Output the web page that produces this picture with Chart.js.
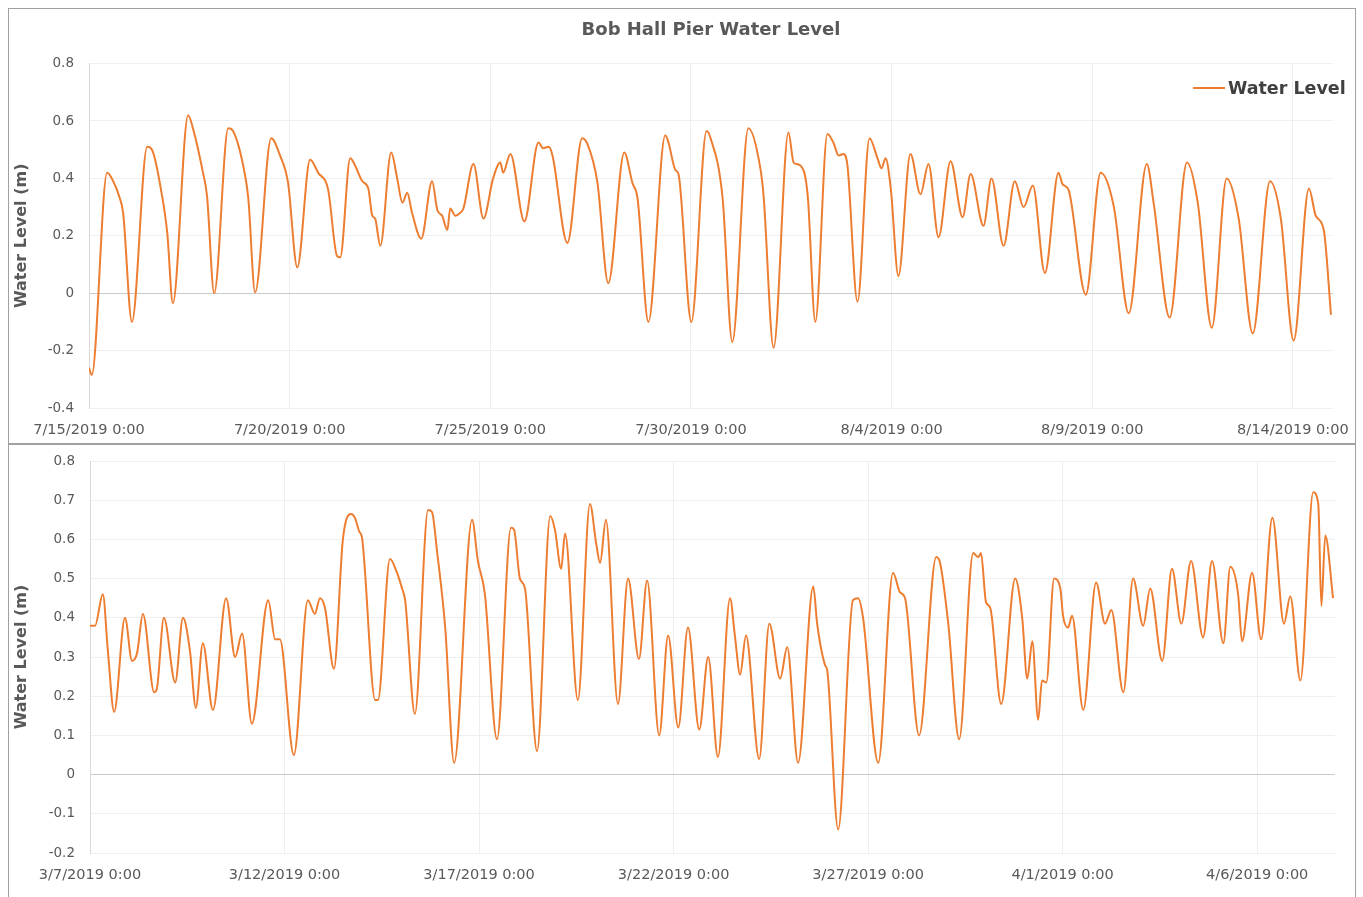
<!DOCTYPE html>
<html>
<head>
<meta charset="utf-8">
<title>Bob Hall Pier Water Level</title>
<script src="https://cdn.jsdelivr.net/npm/chart.js@4"></script>
<style>
	body { margin: 0; background: #fff; width: 1363px; height: 897px; overflow: hidden; position: relative; font-family: 'DejaVu Sans', sans-serif; }
	.panel { position: absolute; left: 8px; width: 1346px; border: 1px solid #a0a0a0; background: #fff; }
	#topPanel { top: 8px; height: 434px; }
	#bottomPanel { top: 444px; height: 460px; }
	canvas { display: block; }
	#legend { position: absolute; left: 1193px; top: 78px; font-weight: bold; font-size: 17.5px; color: #404040; white-space: nowrap; }
	#legend .swatch { display: inline-block; width: 32px; height: 2px; vertical-align: middle; margin-right: 3px; position: relative; top: -1px; }
</style>
</head>
<body>
<div class="panel" id="topPanel"><canvas id="topChart" width="1346" height="434"></canvas></div>
<div class="panel" id="bottomPanel"><canvas id="bottomChart" width="1346" height="452"></canvas></div>
<div id="legend"></div>
<script>
// July / August 2019 run (days after 7/15/2019 0:00)
const topDays = [
	0, 0.07, 0.45, 0.57, 0.77, 0.85, 1.07, 1.45, 1.57, 1.82,
	1.95, 2.09, 2.47, 2.59, 2.84, 2.94, 3.12, 3.47, 3.59, 3.89,
	3.97, 4.14, 4.54, 4.76, 4.96, 5.19, 5.51, 5.71, 5.96, 6.18,
	6.26, 6.51, 6.63, 6.81, 6.96, 7.06, 7.13, 7.26, 7.53, 7.68,
	7.81, 7.93, 8.05, 8.28, 8.55, 8.68, 8.80, 8.93, 9.00, 9.13,
	9.25, 9.33, 9.58, 9.83, 10.07, 10.25, 10.32, 10.50, 10.85, 11.20,
	11.32, 11.45, 11.55, 11.92, 12.29, 12.42, 12.67, 12.94, 13.34, 13.54,
	13.67, 13.94, 14.36, 14.44, 14.61, 14.69, 15.01, 15.39, 15.49, 15.79,
	16.03, 16.43, 16.73, 16.81, 17.06, 17.43, 17.56, 17.73, 17.91, 18.10,
	18.40, 18.55, 18.68, 18.80, 18.90, 19.15, 19.45, 19.65, 19.75, 19.85,
	19.98, 20.17, 20.47, 20.72, 20.92, 21.17, 21.47, 21.77, 21.97, 22.29,
	22.49, 22.79, 23.07, 23.29, 23.52, 23.82, 24.16, 24.26, 24.41, 24.84,
	25.21, 25.54, 25.91, 26.36, 26.53, 26.93, 27.36, 27.63, 27.98, 28.35,
	28.65, 29.00, 29.43, 29.70, 30.02, 30.40, 30.57, 30.77, 30.95
];
const topLevels = [
	-0.26, -0.285, 0.42, 0.40, 0.33, 0.28, -0.10, 0.51, 0.50, 0.34,
	0.21, -0.035, 0.62, 0.575, 0.42, 0.34, 0.0, 0.575, 0.565, 0.41,
	0.33, 0.003, 0.54, 0.48, 0.385, 0.09, 0.465, 0.42, 0.36, 0.13,
	0.125, 0.47, 0.445, 0.39, 0.365, 0.27, 0.26, 0.165, 0.49, 0.40,
	0.315, 0.35, 0.28, 0.19, 0.39, 0.29, 0.27, 0.22, 0.295, 0.27,
	0.28, 0.295, 0.45, 0.26, 0.40, 0.455, 0.42, 0.485, 0.25, 0.525,
	0.505, 0.51, 0.48, 0.175, 0.54, 0.52, 0.385, 0.035, 0.49, 0.385,
	0.33, -0.10, 0.55, 0.525, 0.43, 0.415, -0.10, 0.565, 0.54, 0.33,
	-0.17, 0.575, 0.435, 0.34, -0.19, 0.56, 0.455, 0.445, 0.34, -0.10,
	0.555, 0.525, 0.48, 0.485, 0.445, -0.03, 0.54, 0.47, 0.435, 0.47,
	0.365, 0.06, 0.485, 0.345, 0.45, 0.195, 0.46, 0.265, 0.415, 0.235,
	0.40, 0.165, 0.39, 0.30, 0.375, 0.07, 0.42, 0.38, 0.36, -0.005,
	0.42, 0.30, -0.07, 0.45, 0.315, -0.085, 0.455, 0.315, -0.12, 0.40,
	0.26, -0.14, 0.39, 0.26, -0.165, 0.365, 0.27, 0.22, -0.075
];
const topTickLabels = ['7/15/2019 0:00', '7/20/2019 0:00', '7/25/2019 0:00', '7/30/2019 0:00', '8/4/2019 0:00', '8/9/2019 0:00', '8/14/2019 0:00'];
const topYTicks = [-0.4, 0.8, 0.2];

// March / April 2019 run (days after 3/7/2019 0:00)
const bottomDays = [
	0, 0.13, 0.33, 0.46, 0.62, 0.90, 1.08, 1.21, 1.36, 1.65,
	1.72, 1.90, 2.19, 2.39, 2.57, 2.72, 2.90, 3.16, 3.50, 3.73,
	3.91, 4.16, 4.58, 4.76, 4.88, 5.24, 5.60, 5.78, 5.91, 6.04,
	6.27, 6.50, 6.71, 6.81, 6.92, 6.99, 7.33, 7.40, 7.71, 7.89,
	8.02, 8.10, 8.35, 8.69, 8.79, 8.92, 9.13, 9.36, 9.82, 9.97,
	10.15, 10.46, 10.82, 10.90, 11.05, 11.18, 11.49, 11.83, 11.95, 12.11,
	12.21, 12.54, 12.85, 13.01, 13.11, 13.26, 13.57, 13.83, 14.11, 14.32,
	14.63, 14.86, 15.12, 15.37, 15.66, 15.89, 16.14, 16.45, 16.58, 16.71,
	16.86, 17.20, 17.46, 17.74, 17.92, 18.20, 18.59, 18.69, 18.89, 18.95,
	19.23, 19.61, 19.74, 19.87, 20.26, 20.64, 20.82, 20.95, 21.31, 21.75,
	21.85, 22.06, 22.34, 22.70, 22.83, 22.90, 23.03, 23.14, 23.42, 23.78,
	23.96, 24.09, 24.22, 24.37, 24.47, 24.58, 24.78, 24.94, 25.01, 25.14,
	25.24, 25.53, 25.86, 26.09, 26.25, 26.56, 26.81, 27.07, 27.25, 27.56,
	27.81, 28.05, 28.30, 28.61, 28.84, 29.13, 29.31, 29.51, 29.61, 29.87,
	30.10, 30.39, 30.69, 30.85, 31.11, 31.44, 31.57, 31.65, 31.75, 31.95
];
const bottomLevels = [
	0.38, 0.38, 0.46, 0.315, 0.16, 0.40, 0.29, 0.31, 0.41, 0.21,
	0.22, 0.40, 0.235, 0.40, 0.315, 0.17, 0.335, 0.165, 0.45, 0.30,
	0.36, 0.13, 0.445, 0.345, 0.345, 0.05, 0.445, 0.41, 0.45, 0.425,
	0.27, 0.60, 0.665, 0.655, 0.62, 0.605, 0.19, 0.19, 0.55, 0.515,
	0.475, 0.445, 0.155, 0.675, 0.67, 0.57, 0.375, 0.03, 0.65, 0.545,
	0.46, 0.09, 0.63, 0.625, 0.50, 0.475, 0.06, 0.66, 0.625, 0.525,
	0.615, 0.19, 0.69, 0.59, 0.54, 0.65, 0.18, 0.50, 0.295, 0.495,
	0.10, 0.355, 0.12, 0.375, 0.115, 0.30, 0.045, 0.45, 0.35, 0.255,
	0.355, 0.04, 0.385, 0.245, 0.325, 0.03, 0.48, 0.385, 0.28, 0.265,
	-0.14, 0.445, 0.45, 0.40, 0.03, 0.515, 0.465, 0.45, 0.10, 0.555,
	0.54, 0.385, 0.09, 0.565, 0.555, 0.565, 0.44, 0.425, 0.18, 0.50,
	0.40, 0.245, 0.34, 0.14, 0.24, 0.235, 0.50, 0.475, 0.405, 0.375,
	0.405, 0.165, 0.49, 0.385, 0.42, 0.21, 0.50, 0.38, 0.475, 0.29,
	0.525, 0.385, 0.545, 0.35, 0.545, 0.335, 0.53, 0.46, 0.34, 0.515,
	0.345, 0.655, 0.385, 0.455, 0.24, 0.72, 0.69, 0.43, 0.61, 0.45
];
const bottomTickLabels = ['3/7/2019 0:00', '3/12/2019 0:00', '3/17/2019 0:00', '3/22/2019 0:00', '3/27/2019 0:00', '4/1/2019 0:00', '4/6/2019 0:00'];
const bottomYTicks = [-0.2, 0.8, 0.1];

const seriesLabel = 'Water Level';
const lineColor = '#ED7D31';

Chart.defaults.font.family = "'DejaVu Sans', sans-serif";
Chart.defaults.color = '#595959';

function makeChart(id, days, levels, tickLabels, yTicks, xMax, box) {
	return new Chart(document.getElementById(id), {
		type: 'line',
		data: {
			datasets: [{
				label: seriesLabel,
				data: days.map((d, i) => ({ x: d, y: levels[i] })),
				borderColor: lineColor,
				backgroundColor: lineColor,
				borderWidth: 2,
				pointRadius: 0,
				cubicInterpolationMode: 'monotone',
				fill: false
			}]
		},
		options: {
			responsive: false,
			animation: false,
			events: [],
			layout: { padding: box.padding, autoPadding: false },
			plugins: {
				legend: { display: false },
				tooltip: { enabled: false },
				title: box.title ? {
					display: true,
					text: box.title,
					fullSize: false,
					color: '#595959',
					font: { size: 18, weight: 'bold' },
					padding: { top: 11, bottom: 22 }
				} : { display: false }
			},
			scales: {
				x: {
					type: 'linear',
					min: 0,
					max: xMax,
					afterBuildTicks: s => { s.ticks = tickLabels.map((_, i) => ({ value: i * 5 })); },
					afterFit: s => {
						// fixed band for the date labels, no extra side padding
						s.height = box.xHeight;
						s.paddingLeft = 0;
						s.paddingRight = 0;
					},
					ticks: {
						callback: v => tickLabels[Math.round(v / 5)],
						maxRotation: 0,
						autoSkip: false,
						padding: box.xPad,
						color: '#595959',
						font: { size: 14.5 }
					},
					grid: { color: '#eeeeee', drawTicks: false },
					border: { display: false }
				},
				y: {
					min: yTicks[0],
					max: yTicks[1],
					afterFit: s => {
						s.width = box.yWidth;
						s.paddingTop = 0;
						s.paddingBottom = 0;
					},
					ticks: {
						stepSize: yTicks[2],
						callback: v => Number(v.toFixed(1)).toString(),
						padding: 15,
						color: '#595959',
						font: { size: 13.5 }
					},
					grid: {
						drawTicks: false,
						color: c => (c.tick && Math.abs(c.tick.value) < 1e-9) ? '#c9c9c9' : '#efefef'
					},
					border: { display: true, color: '#d9d9d9' },
					title: {
						display: true,
						text: 'Water Level (m)',
						color: '#595959',
						font: { size: 16, weight: 'bold' },
						padding: { top: 3, bottom: 0 }
					}
				}
			}
		}
	});
}

const topChart = makeChart('topChart', topDays, topLevels, topTickLabels, topYTicks, 31, {
	title: 'Bob Hall Pier Water Level',
	padding: { left: 0, right: 22, top: 0, bottom: 4 },
	xPad: 14,
	xHeight: 31,
	yWidth: 80
});

makeChart('bottomChart', bottomDays, bottomLevels, bottomTickLabels, bottomYTicks, 32, {
	title: null,
	padding: { left: 0, right: 20, top: 16, bottom: 14 },
	xPad: 14,
	xHeight: 30,
	yWidth: 81
});

// legend sits inside the top plot, top right (html so it can overlap the plot)
const legendEl = document.getElementById('legend');
topChart.data.datasets.forEach(ds => {
	legendEl.innerHTML += `<span class="swatch" style="background:${ds.borderColor}"></span>${ds.label}`;
});
</script>
</body>
</html>
